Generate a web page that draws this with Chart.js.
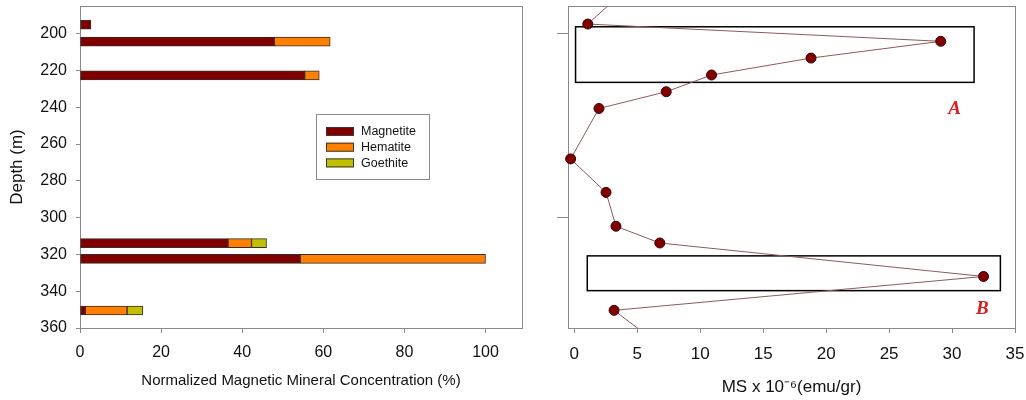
<!DOCTYPE html>
<html>
<head>
<meta charset="utf-8">
<script src="https://cdn.jsdelivr.net/npm/chart.js@4.4.1/dist/chart.umd.min.js"></script>
<style>
  body { margin: 0; background: #fff; }
  #wrap { position: relative; width: 1026px; height: 400px; }
  #left { position: absolute; left: 0; top: 0; }
  #right { position: absolute; left: 530px; top: 0; }
</style>
</head>
<body>
<div id="wrap">
  <canvas id="left" width="530" height="400"></canvas>
  <canvas id="right" width="496" height="400"></canvas>
</div>
<script>
// left panel: mineral concentration per depth
var depthTicks = [200, 220, 240, 260, 280, 300, 320, 340, 360]
var concTicks = [0, 20, 40, 60, 80, 100]
var barDepths = [195.2, 204.4, 222.7, 313.9, 322.4, 350.5]
var magnetite = [2.7, 47.9, 55.4, 36.5, 54.3, 1.3]
var hematite = [null, 13.8, 3.6, 5.8, 45.7, 10.3]
var goethite = [null, null, null, 3.7, null, 3.9]

// right panel: magnetic susceptibility
var msTicks = [0, 5, 10, 15, 20, 25, 30, 35]
var msDepthTicks = [200, 300]
var msDepths = [176.7, 194.8, 204.2, 213.3, 222.5, 231.6, 240.7, 268.1, 286.3, 304.7, 313.8, 332.0, 350.4, 368.8]
var msValues = [4.0, 1.07, 29.1, 18.8, 10.9, 7.3, 1.96, -0.29, 2.52, 3.31, 6.79, 32.5, 3.16, 6.7]

// highlighted zones
var zoneNames = ['A', 'B']
var zoneMsMin = [0.1, 1.03]
var zoneMsMax = [31.75, 33.84]
var zoneDepthTop = [196.3, 320.8]
var zoneDepthBottom = [226.5, 339.7]
var zoneLabelMs = [30.2, 32.4]
var zoneLabelDepth = [241.0, 349.8]

var FONT = "'Liberation Sans', Arial, sans-serif"
var AXIS = '#8a8a8a'
Chart.defaults.font.family = FONT
Chart.defaults.color = '#111'

function pts(values) {
    var out = []
    for (var i = 0; i < values.length; i++) {
        if (values[i] !== null) out.push({x: values[i], y: barDepths[i]})
    }
    return out
}

function setTicks(list) {
    return function (scale) {
        scale.ticks = list.map(function (v) { return {value: v} })
    }
}

// fixed scale box size, no extra room for edge labels
function fitTo(w, h) {
    return function (s) {
        if (w) s.width = w
        if (h) s.height = h
        s.paddingTop = 0
        s.paddingBottom = 0
        s.paddingLeft = 0
        s.paddingRight = 0
    }
}

var framePlugin = {
    id: 'frame',
    beforeDatasetsDraw: function (chart) {
        var a = chart.chartArea, ctx = chart.ctx
        ctx.save()
        ctx.strokeStyle = AXIS
        ctx.lineWidth = 1
        ctx.strokeRect(Math.round(a.left) + 0.5, Math.round(a.top) + 0.5, Math.round(a.right - a.left), Math.round(a.bottom - a.top))
        ctx.restore()
    }
}

var legendPlugin = {
    id: 'boxLegend',
    afterDraw: function (chart) {
        var ctx = chart.ctx
        ctx.save()
        ctx.strokeStyle = AXIS
        ctx.lineWidth = 1
        ctx.strokeRect(316.5, 114.5, 113, 65)
        ctx.font = '12.5px ' + FONT
        ctx.textBaseline = 'middle'
        chart.data.datasets.forEach(function (ds, i) {
            var y = 127 + i * 15.7
            ctx.fillStyle = ds.backgroundColor
            ctx.fillRect(326, y, 28, 9)
            ctx.strokeStyle = '#3a3a3a'
            ctx.strokeRect(326.5, y + 0.5, 27, 8)
            ctx.fillStyle = '#111'
            ctx.fillText(ds.label, 361, y + 5)
        })
        ctx.restore()
    }
}

var zonePlugin = {
    id: 'zones',
    beforeDatasetsDraw: function (chart) {
        var x = chart.scales.x, y = chart.scales.y, ctx = chart.ctx
        ctx.save()
        ctx.strokeStyle = '#000'
        ctx.lineWidth = 1.5
        for (var i = 0; i < zoneNames.length; i++) {
            var x0 = x.getPixelForValue(zoneMsMin[i])
            var x1 = x.getPixelForValue(zoneMsMax[i])
            var y0 = y.getPixelForValue(zoneDepthTop[i])
            var y1 = y.getPixelForValue(zoneDepthBottom[i])
            ctx.strokeRect(x0, y0, x1 - x0, y1 - y0)
        }
        ctx.restore()
    },
    afterDatasetsDraw: function (chart) {
        var x = chart.scales.x, y = chart.scales.y, ctx = chart.ctx
        ctx.save()
        ctx.fillStyle = '#e31a1c'
        ctx.font = "italic bold 19px 'Liberation Serif', 'Times New Roman', serif"
        ctx.textAlign = 'center'
        ctx.textBaseline = 'middle'
        for (var i = 0; i < zoneNames.length; i++) {
            ctx.fillText(zoneNames[i], x.getPixelForValue(zoneLabelMs[i]), y.getPixelForValue(zoneLabelDepth[i]))
        }
        ctx.restore()
    }
}

var barStyle = {borderColor: '#3a2a2a', borderWidth: 1, borderSkipped: false, barThickness: 9}

new Chart('left', {
    type: 'bar',
    data: {
        datasets: [
            Object.assign({label: 'Magnetite', backgroundColor: '#800000', data: pts(magnetite)}, barStyle),
            Object.assign({label: 'Hematite', backgroundColor: '#ff8000', data: pts(hematite)}, barStyle),
            Object.assign({label: 'Goethite', backgroundColor: '#c0c000', data: pts(goethite)}, barStyle)
        ]
    },
    options: {
        indexAxis: 'y',
        responsive: false,
        animation: false,
        layout: {padding: {top: 6, right: 8, left: 0, bottom: 0}},
        plugins: {legend: {display: false}, tooltip: {enabled: false}},
        scales: {
            x: {
                type: 'linear', stacked: true, min: 0, max: 109,
                afterBuildTicks: setTicks(concTicks),
                afterFit: fitTo(0, 72),
                grid: {drawOnChartArea: false, tickLength: 5, color: AXIS},
                border: {color: AXIS},
                ticks: {font: {size: 16}, padding: 10, maxRotation: 0},
                title: {display: true, text: 'Normalized Magnetic Mineral Concentration (%)', font: {size: 15}, padding: {top: 4, bottom: 10}}
            },
            y: {
                type: 'linear', stacked: true, reverse: true, min: 185, max: 360, offset: false,
                afterBuildTicks: setTicks(depthTicks),
                afterFit: fitTo(80, 0),
                grid: {drawOnChartArea: false, offset: false, tickLength: 4, color: AXIS},
                border: {color: AXIS},
                ticks: {font: {size: 16}, padding: 9},
                title: {display: true, text: 'Depth (m)', font: {size: 17}, padding: {top: 7, bottom: 0}}
            }
        }
    },
    plugins: [framePlugin, legendPlugin]
})

new Chart('right', {
    type: 'scatter',
    data: {
        datasets: [{
            label: 'MS',
            data: msDepths.map(function (d, i) { return {x: msValues[i], y: d} }),
            showLine: true,
            borderColor: '#8b5a5a',
            borderWidth: 1,
            pointRadius: 5,
            pointBackgroundColor: '#800000',
            pointBorderColor: '#3a0000',
            pointBorderWidth: 1,
            clip: {left: 8, top: 0, right: 0, bottom: 0}
        }]
    },
    options: {
        responsive: false,
        animation: false,
        layout: {padding: {top: 6, right: 11, left: 0, bottom: 0}},
        plugins: {legend: {display: false}, tooltip: {enabled: false}},
        scales: {
            x: {
                type: 'linear', min: -0.5, max: 35,
                afterBuildTicks: setTicks(msTicks),
                afterFit: fitTo(0, 72),
                grid: {drawOnChartArea: false, tickLength: 5, color: AXIS},
                border: {color: AXIS},
                ticks: {font: {size: 17}, padding: 11, maxRotation: 0},
                title: {display: true, text: 'MS x 10\u207B\u2076(emu/gr)', font: {size: 17}, padding: {top: 4, bottom: 2}}
            },
            y: {
                type: 'linear', reverse: true, min: 185, max: 360,
                afterBuildTicks: setTicks(msDepthTicks),
                afterFit: fitTo(38, 0),
                grid: {drawOnChartArea: false, tickLength: 11, color: AXIS},
                border: {color: AXIS},
                ticks: {callback: function () { return '' }, padding: 0}
            }
        }
    },
    plugins: [framePlugin, zonePlugin]
})
</script>
</body>
</html>
